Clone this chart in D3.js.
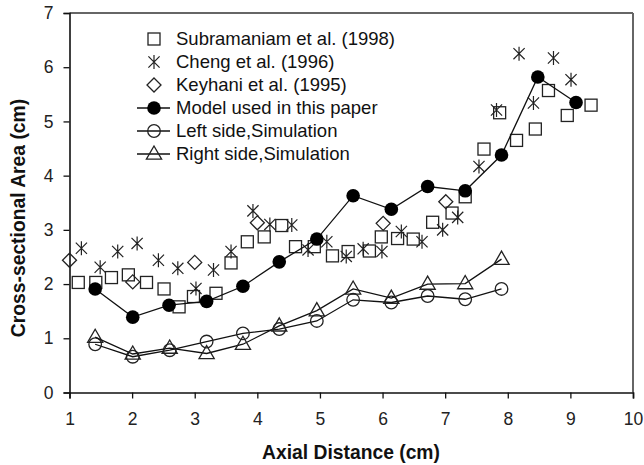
<!DOCTYPE html>
<html><head><meta charset="utf-8">
<script src="https://cdn.jsdelivr.net/npm/d3@7"></script>
<style>body{margin:0;background:#fff}svg{display:block}text{font-family:"Liberation Sans",Arial,sans-serif}</style>
</head><body><svg id="c" width="644" height="465"></svg>
<script>
const xTicks=[1,2,3,4,5,6,7,8,9,10];
const yTicks=[0,1,2,3,4,5,6,7];
const legendLabels=["Subramaniam et al. (1998)","Cheng et al. (1996)","Keyhani et al. (1995)","Model used in this paper","Left side,Simulation","Right side,Simulation"];
const subX=[1.14,1.42,1.67,1.94,2.23,2.51,2.75,2.98,3.34,3.58,3.84,4.11,4.39,4.61,4.91,5.20,5.45,5.79,5.98,6.24,6.49,6.80,7.11,7.32,7.62,7.87,8.14,8.44,8.65,8.95,9.33];
const subY=[2.03,2.03,2.12,2.17,2.03,1.91,1.58,1.77,1.83,2.39,2.78,2.87,3.08,2.69,2.69,2.52,2.60,2.61,2.87,2.84,2.83,3.14,3.31,3.61,4.49,5.16,4.65,4.86,5.57,5.11,5.30];
const chengX=[1.19,1.49,1.77,2.08,2.42,2.73,3.02,3.30,3.58,3.93,4.20,4.55,4.81,5.11,5.42,5.69,5.99,6.30,6.63,6.96,7.20,7.54,7.82,8.18,8.41,8.73,9.01];
const chengY=[2.66,2.31,2.60,2.75,2.44,2.29,1.92,2.26,2.60,3.35,3.10,3.09,2.63,2.78,2.51,2.65,2.60,2.97,2.78,3.00,3.23,4.17,5.21,6.25,5.34,6.17,5.77];
const keyX=[1.00,2.01,3.00,4.00,6.01,7.01];
const keyY=[2.44,2.04,2.40,3.13,3.12,3.52];
const modelX=[1.41,2.01,2.59,3.19,3.77,4.35,4.95,5.53,6.14,6.72,7.32,7.90,8.48,9.09];
const modelY=[1.91,1.39,1.61,1.68,1.96,2.41,2.83,3.63,3.38,3.80,3.72,4.38,5.82,5.35];
const simX=[1.41,2.01,2.60,3.19,3.77,4.35,4.95,5.53,6.14,6.72,7.32,7.90];
const leftY=[0.89,0.66,0.78,0.94,1.09,1.17,1.32,1.71,1.66,1.78,1.72,1.91];
const rightY=[1.02,0.71,0.82,0.72,0.89,1.23,1.51,1.91,1.74,2.00,2.01,2.46];

const svg=d3.select("#c");
const x=d3.scaleLinear().domain([1,10]).range([69.5,633]);
const y=d3.scaleLinear().domain([0,7]).range([392.5,13]);
const zip=(a,b)=>a.map((v,i)=>[v,b[i]]);
const mk="#222";

// frame top/right
svg.append("line").attr("x1",x(1)).attr("x2",x(10)).attr("y1",y(7)).attr("y2",y(7)).attr("stroke","#666").attr("stroke-width",2);
svg.append("line").attr("x1",x(10)).attr("x2",x(10)).attr("y1",y(7)).attr("y2",y(0)).attr("stroke","#666").attr("stroke-width",2);

const gx=svg.append("g").attr("transform",`translate(0,${y(0)})`).call(d3.axisBottom(x).tickValues(xTicks).tickSize(6).tickPadding(6).tickFormat(d3.format("d")));
const gy=svg.append("g").attr("transform",`translate(${x(1)},0)`).call(d3.axisLeft(y).tickValues(yTicks).tickSize(6).tickPadding(10).tickFormat(d3.format("d")));
[gx,gy].forEach(g=>{g.select(".domain").attr("stroke","#111").attr("stroke-width",1.6);g.selectAll(".tick line").attr("stroke","#111").attr("stroke-width",1.3);g.selectAll("text").attr("font-size",17.5).attr("fill","#222").style("font-family","'Liberation Sans',Arial,sans-serif");});
gx.selectAll("text").attr("dy","1.15em");

svg.append("text").attr("x",351).attr("y",459).attr("text-anchor","middle").attr("font-weight","bold").attr("font-size",19.3).attr("fill","#111").text("Axial Distance (cm)");
svg.append("text").attr("transform","translate(25,218) rotate(-90)").attr("text-anchor","middle").attr("font-weight","bold").attr("font-size",19.3).attr("fill","#111").text("Cross-sectional Area (cm)");

// marker painters
function square(g,cx,cy){g.append("rect").attr("x",cx-6).attr("y",cy-6).attr("width",12).attr("height",12).attr("fill","none").attr("stroke",mk).attr("stroke-width",1.3);}
function star(g,cx,cy){const r=7;g.append("path").attr("d",`M${cx-r*0.8},${cy-r*0.8}L${cx+r*0.8},${cy+r*0.8}M${cx-r*0.8},${cy+r*0.8}L${cx+r*0.8},${cy-r*0.8}M${cx},${cy-r}L${cx},${cy+r}`).attr("stroke",mk).attr("stroke-width",1.2).attr("fill","none");}
function diamond(g,cx,cy){const r=7;g.append("path").attr("d",`M${cx},${cy-r}L${cx+r},${cy}L${cx},${cy+r}L${cx-r},${cy}Z`).attr("fill","none").attr("stroke",mk).attr("stroke-width",1.3);}
function fcirc(g,cx,cy){g.append("circle").attr("cx",cx).attr("cy",cy).attr("r",6.8).attr("fill","#000");}
function ocirc(g,cx,cy){g.append("circle").attr("cx",cx).attr("cy",cy).attr("r",6.3).attr("fill","none").attr("stroke",mk).attr("stroke-width",1.3);}
function tri(g,cx,cy){const r=8;g.append("path").attr("d",`M${cx},${cy-r}L${cx+r*0.95},${cy+r*0.65}L${cx-r*0.95},${cy+r*0.65}Z`).attr("fill","none").attr("stroke",mk).attr("stroke-width",1.3);}

const line=d3.line().x(d=>x(d[0])).y(d=>y(d[1]));
const plot=svg.append("g");
function series(xs,ys,painter,withLine){
  const g=plot.append("g");
  const data=zip(xs,ys);
  if(withLine) g.append("path").datum(data).attr("d",line).attr("fill","none").attr("stroke","#111").attr("stroke-width",1.3);
  data.forEach(d=>painter(g,x(d[0]),y(d[1])));
}
series(subX,subY,square,false);
series(chengX,chengY,star,false);
series(keyX,keyY,diamond,false);
series(simX,leftY,ocirc,true);
series(simX,rightY,tri,true);
series(modelX,modelY,fcirc,true);

// legend
const painters=[square,star,diamond,fcirc,ocirc,tri];
const lg=svg.append("g");
legendLabels.forEach((t,i)=>{
  const cy=39+i*23;
  if(i>=3) lg.append("line").attr("x1",137).attr("x2",170).attr("y1",cy).attr("y2",cy).attr("stroke","#111").attr("stroke-width",1.3);
  painters[i](lg,154,cy);
  lg.append("text").attr("x",176).attr("y",cy).attr("dy","0.35em").attr("font-size",18.5).attr("fill","#111").text(t);
});
</script></body></html>
